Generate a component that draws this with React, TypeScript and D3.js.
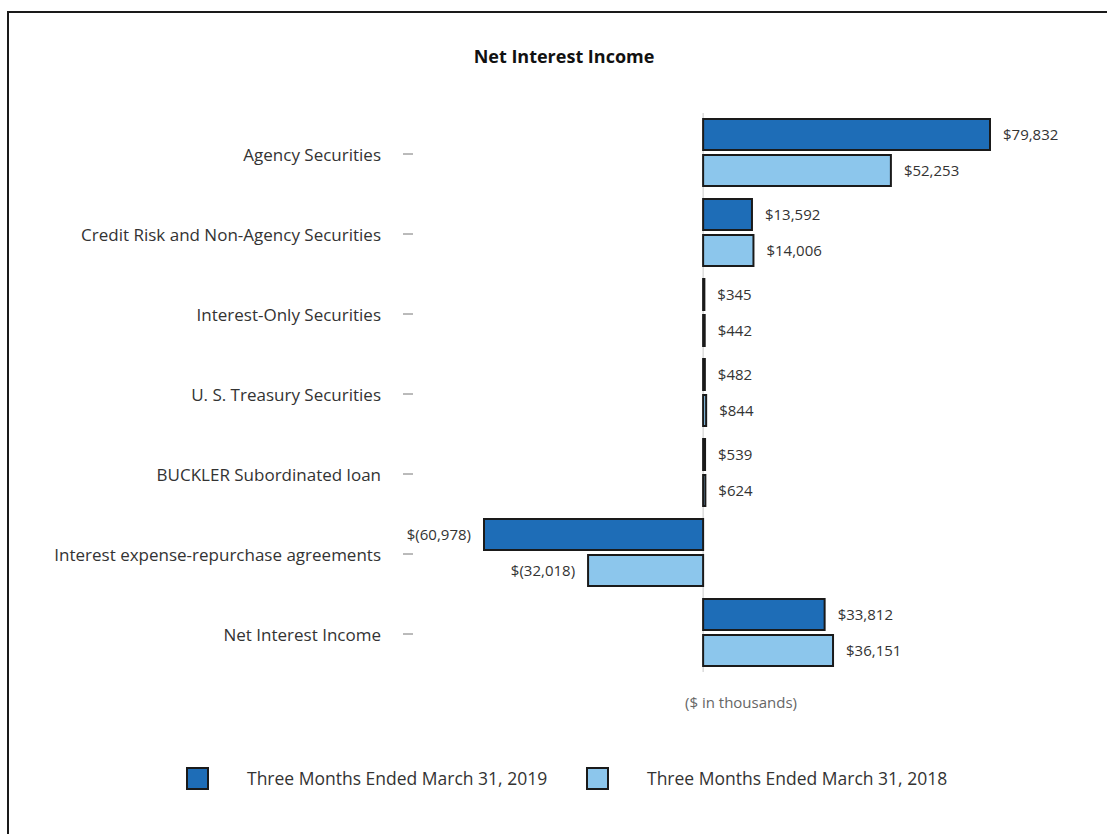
import React from "react";
import * as d3 from "d3";

const categories = [
  "Agency Securities",
  "Credit Risk and Non-Agency Securities",
  "Interest-Only Securities",
  "U. S. Treasury Securities",
  "BUCKLER Subordinated loan",
  "Interest expense-repurchase agreements",
  "Net Interest Income",
];
const seriesNames = ["Three Months Ended March 31, 2019", "Three Months Ended March 31, 2018"];
const values2019 = [79832, 13592, 345, 482, 539, -60978, 33812];
const values2018 = [52253, 14006, 442, 844, 624, -32018, 36151];
const seriesColors = ["#1e6db7", "#8cc6ec"];
const title = "Net Interest Income";
const unitNote = "($ in thousands)";

const W = 1107;
const H = 834;
const FONT = "'Open Sans', 'Noto Sans', sans-serif";

function fmt(v: number) {
  const s = d3.format(",")(Math.abs(v));
  return v < 0 ? `$(${s})` : `$${s}`;
}

export default function App() {
  const x = d3.scaleLinear().domain([-60978, 79832]).range([484, 990]);
  const y0 = d3.scaleBand<string>().domain(categories).range([115, 675]).padding(0);
  const y1 = d3
    .scaleBand<number>()
    .domain([0, 1])
    .range([4, 71])
    .paddingInner(5 / 36)
    .paddingOuter(0);
  const series = [values2019, values2018];
  const x0 = x(0);

  return (
    <svg
      width={W}
      height={H}
      style={{ position: "absolute", left: 0, top: 0, background: "#fff" }}
      fontFamily={FONT}
    >
      <rect x={0} y={0} width={W} height={H} fill="#fff" />
      <line x1={8} x2={W} y1={12} y2={12} stroke="#1a1a1a" strokeWidth={2} />
      <line x1={8} x2={8} y1={11} y2={H} stroke="#1a1a1a" strokeWidth={2} />

      <text x={564} y={57} dy="0.35em" textAnchor="middle" fontWeight="bold" fontSize={18} fill="#111">
        {title}
      </text>

      {/* zero axis */}
      <line x1={x0} x2={x0} y1={113} y2={672} stroke="#c8c8c8" strokeWidth={1} />

      {categories.map((c) => {
        const cy = (y0(c) as number) + y0.bandwidth() / 2;
        return (
          <g key={c}>
            <text x={381} y={cy} dy="0.35em" textAnchor="end" fontSize={17} fill="#333">
              {c}
            </text>
            <line x1={403} x2={413} y1={cy - 1} y2={cy - 1} stroke="#777" strokeWidth={1} />
          </g>
        );
      })}

      {series.map((vals, si) =>
        vals.map((v, i) => {
          const c = categories[i];
          const top = (y0(c) as number) + (y1(si) as number);
          const h = y1.bandwidth();
          const xa = Math.min(x(v), x0);
          const w = Math.max(Math.abs(x(v) - x0), 1);
          const lx = v < 0 ? x(v) - 13 : x(v) + 13;
          return (
            <g key={`${si}-${i}`}>
              <rect
                x={xa}
                y={top}
                width={w}
                height={h}
                fill={seriesColors[si]}
                stroke="#1a1a1a"
                strokeWidth={2}
              />
              <text
                x={lx}
                y={top + h / 2}
                dy="0.35em"
                textAnchor={v < 0 ? "end" : "start"}
                fontSize={15}
                fill="#333"
              >
                {fmt(v)}
              </text>
            </g>
          );
        })
      )}

      <text x={741} y={703} dy="0.35em" textAnchor="middle" fontSize={15} fill="#666">
        {unitNote}
      </text>

      {seriesNames.map((n, si) => {
        const sx = si === 0 ? 187 : 587;
        return (
          <g key={n}>
            <rect x={sx} y={768} width={21} height={21} fill={seriesColors[si]} stroke="#1a1a1a" strokeWidth={2} />
            <text x={sx + 60} y={779} dy="0.35em" fontSize={17.5} fill="#333">
              {n}
            </text>
          </g>
        );
      })}
    </svg>
  );
}
